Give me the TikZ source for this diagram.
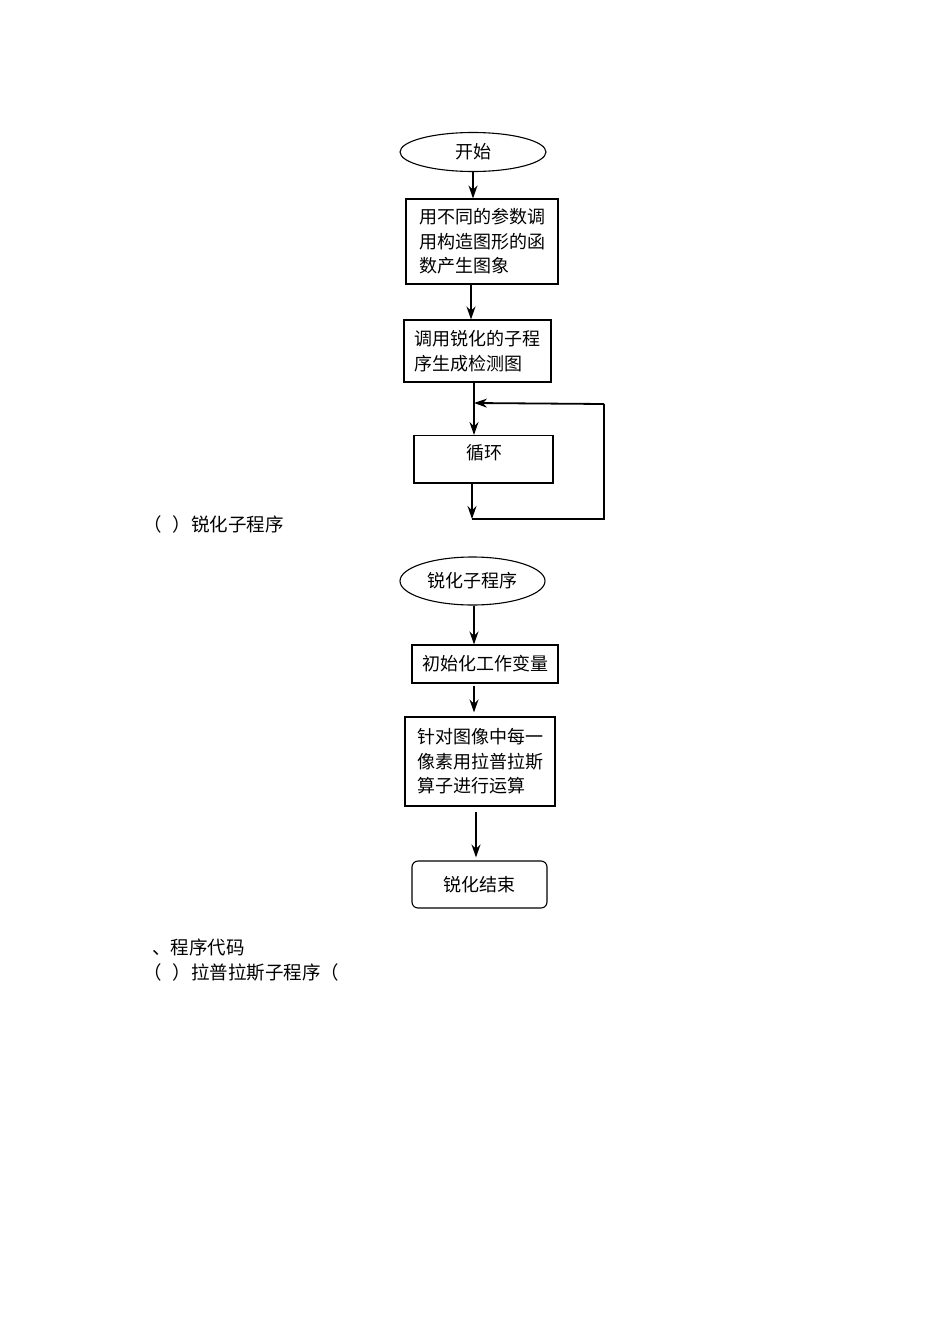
\documentclass[tikz,border=0pt]{standalone}
\usepackage{fontspec}
\setmainfont{Noto Sans CJK SC}
\usetikzlibrary{shapes.geometric, arrows.meta, positioning, calc}

\begin{document}
\begin{tikzpicture}[x=1pt, y=-1pt,
            box/.style={draw, line width=1.1pt, inner sep=0pt, align=left, font=\fontsize{18}{24.5}\selectfont},
            terminal/.style={draw, ellipse, line width=1.1pt, inner sep=0pt, minimum width=146pt, minimum height=39pt, font=\fontsize{18}{24}\selectfont},
            caption/.style={anchor=west, inner sep=0pt, font=\fontsize{18.5}{24}\selectfont},
            arrow/.style={->, >={Stealth[length=13pt, width=9pt]}, line width=1.8pt}
        ]
            \useasboundingbox[fill=white] (0,0) rectangle (950,1344);

            % main program
            \node[terminal] (start) at (473,152) {开始};
            \node[box, minimum width=152pt, minimum height=85pt] (plot) at (482,241.5) {用不同的参数调\\用构造图形的函\\数产生图象};
            \node[box, minimum width=147pt, minimum height=62pt] (callsharp) at (477.5,351) {调用锐化的子程\\序生成检测图};
            \node[box, minimum width=139pt, minimum height=47pt, anchor=north] (loop) at (483.5,435) {};
            \node[font=\fontsize{18}{24}\selectfont] (looptext) at (484,453) {循环};
            \draw[line width=2.2pt] (loop.south west) -- (loop.south east);

            \coordinate (loopin) at (474,403);
            \coordinate (loopright) at (604,404);
            \coordinate (loopdown) at (604,519);
            \coordinate (loopout) at (472,519);

            \draw[arrow] (start.south) -- (plot.north -| start.south);
            \draw[arrow] ($(plot.south)+(-11,0)$) -- ($(callsharp.north)+(-6.5,0)$);
            \draw[arrow] (callsharp.south -| loopin) -- (loop.north -| loopin);
            \draw[arrow] (loopright) -- (loopin);
            \draw[line width=1.8pt] (loopright) -- (loopdown) -- (loopout);
            \draw[arrow] (loop.south -| loopout) -- (loopout);

            \node[caption] (title1) at (143,524) {（\hspace{11pt}）锐化子程序};

            % sharpening subroutine
            \node[terminal, minimum width=145pt, minimum height=48pt] (sub) at (472.5,581) {锐化子程序};
            \node[box, minimum width=146pt, minimum height=38pt] (init) at (485,664) {初始化工作变量};
            \node[box, minimum width=150pt, minimum height=89pt] (laplace) at (480,761.5) {针对图像中每一\\像素用拉普拉斯\\算子进行运算};
            \node[box, rounded corners=6pt, minimum width=135pt, minimum height=47pt] (finish) at (479.5,884.5) {锐化结束};

            \draw[arrow] (sub.south -| 474,0) -- (init.north -| 474,0);
            \draw[arrow] ($(init.south)+(-11,2)$) -- ($(laplace.north)+(-6,-4)$);
            \draw[arrow] ($(laplace.south)+(-4,5)$) -- ($(finish.north)+(-3.5,-3)$);

            \node[caption] (title2) at (152,947) {、程序代码};
            \node[caption] (title3) at (143,972) {（\hspace{11pt}）拉普拉斯子程序（};
        \end{tikzpicture}
\end{document}
